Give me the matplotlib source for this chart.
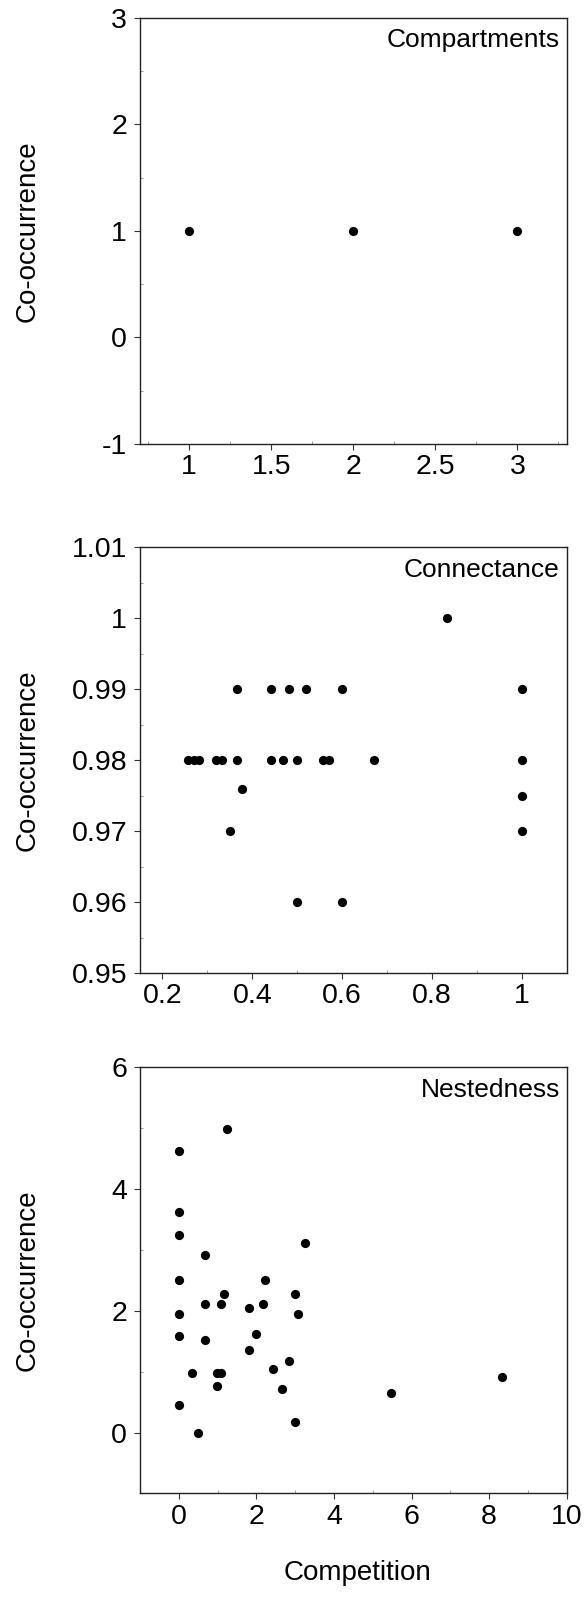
import matplotlib
matplotlib.use('Agg')
import matplotlib.pyplot as plt
from matplotlib.ticker import AutoMinorLocator, FormatStrFormatter

plt.rcParams['font.family'] = ['Liberation Sans', 'DejaVu Sans']

# Compartments
comp_x = [1, 2, 3]
comp_y = [1, 1, 1]

# Connectance
conn_x = [0.257, 0.271, 0.282, 0.319, 0.332, 0.367, 0.441, 0.469, 0.500, 0.558, 0.571, 0.670, 1.0,
          0.367, 0.441, 0.481, 0.520, 0.600, 1.0,
          0.833, 0.376, 0.351, 1.0, 1.0, 0.500, 0.600]
conn_y = [0.98] * 13 + [0.99] * 6 + [1.0, 0.976, 0.97, 0.975, 0.97, 0.96, 0.96]

# Nestedness
nest_x = [0, 1.25, 0, 0, 0.67, 3.25, 0, 2.21, 1.16, 3.00, 0.67, 1.08, 2.16, 1.82, 0, 3.08,
          0, 0.67, 1.99, 1.82, 2.83, 2.43, 0.33, 0.98, 1.09, 0.99, 2.66, 5.46, 8.34, 0, 0.49, 3.0]
nest_y = [4.63, 4.99, 3.63, 3.24, 2.92, 3.11, 2.50, 2.50, 2.27, 2.27, 2.11, 2.11, 2.11, 2.04, 1.95, 1.95,
          1.59, 1.52, 1.62, 1.36, 1.17, 1.04, 0.97, 0.97, 0.97, 0.77, 0.71, 0.65, 0.91, 0.45, 0.0, 0.175]

panels = [
    (comp_x, comp_y, 'Compartments', (0.7, 3.3), (-1, 3), [1, 1.5, 2, 2.5, 3], [-1, 0, 1, 2, 3], 0.7225),
    (conn_x, conn_y, 'Connectance', (0.15, 1.1), (0.95, 1.01), [0.2, 0.4, 0.6, 0.8, 1],
     [0.95, 0.96, 0.97, 0.98, 0.99, 1.0, 1.01], 0.3917),
    (nest_x, nest_y, 'Nestedness', (-1, 10), (-1, 6), [0, 2, 4, 6, 8, 10], [0, 2, 4, 6], 0.0666),
]

fig = plt.figure(figsize=(5.87, 16), dpi=100)

for x, y, name, xlim, ylim, xt, yt, bottom in panels:
    ax = fig.add_axes([0.2385, bottom, 0.7269, 0.2664])
    ax.scatter(x, y, s=44, color='black', zorder=3, linewidths=0)
    ax.set_xlim(xlim)
    ax.set_ylim(ylim)
    ax.set_xticks(xt)
    ax.set_yticks(yt)
    ax.xaxis.set_major_formatter(FormatStrFormatter('%g'))
    ax.yaxis.set_major_formatter(FormatStrFormatter('%g'))
    ax.xaxis.set_minor_locator(AutoMinorLocator(2))
    ax.yaxis.set_minor_locator(AutoMinorLocator(2))
    ax.tick_params(which='major', direction='out', length=4.3, width=0.8, labelsize=20.5,
                   color='#333333')
    ax.tick_params(axis='y', which='major', pad=5)
    ax.tick_params(axis='x', which='major', pad=3)
    ax.tick_params(which='minor', direction='in', length=2, width=0.5, color='#777777')
    for s in ax.spines.values():
        s.set_linewidth(1.0)
        s.set_color('#222222')
    ax.text(0.984, 0.975, name, transform=ax.transAxes, ha='right', va='top', fontsize=19)
    ax.set_ylabel('Co-occurrence', fontsize=20)
    ax.yaxis.set_label_coords(-0.232, 0.5)

ax.set_xlabel('Competition', fontsize=20)
ax.xaxis.set_label_coords(0.51, -0.155)

fig.savefig('out.png', dpi=100)
